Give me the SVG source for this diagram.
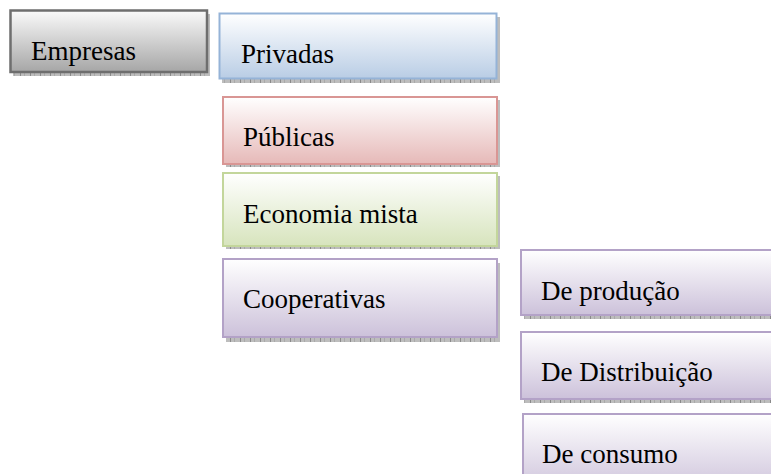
<svg xmlns="http://www.w3.org/2000/svg" width="771" height="474" viewBox="0 0 771 474">
<defs>
<linearGradient id="gGray" x1="0" y1="0" x2="0" y2="1"><stop offset="0" stop-color="#fafafa"/><stop offset="1" stop-color="#a6a6a6"/></linearGradient>
<linearGradient id="gBlue" x1="0" y1="0" x2="0" y2="1"><stop offset="0" stop-color="#ffffff"/><stop offset="1" stop-color="#b9cde5"/></linearGradient>
<linearGradient id="gRed" x1="0" y1="0" x2="0" y2="1"><stop offset="0" stop-color="#ffffff"/><stop offset="1" stop-color="#e6b9b8"/></linearGradient>
<linearGradient id="gGreen" x1="0" y1="0" x2="0" y2="1"><stop offset="0" stop-color="#ffffff"/><stop offset="1" stop-color="#d7e4bd"/></linearGradient>
<linearGradient id="gPurple" x1="0" y1="0" x2="0" y2="1"><stop offset="0" stop-color="#ffffff"/><stop offset="1" stop-color="#ccc1da"/></linearGradient>
<pattern id="shade" width="10" height="10" patternUnits="userSpaceOnUse">
<rect width="10" height="10" fill="#bdbdbd"/>
<rect x="0" y="0" width="1" height="10" fill="#8a8a8a"/>
<rect x="4" y="0" width="1" height="10" fill="#a9a9a9"/>
</pattern>
</defs>
<style>
.lbl{font-family:"Liberation Serif","Times New Roman",serif;font-size:27px;fill:#000}
.sh{fill:url(#shade)}
.gray{fill:url(#gGray);stroke:#6e6e6e;stroke-width:2.5}
.blue{fill:url(#gBlue);stroke:#95b3d7;stroke-width:2}
.red{fill:url(#gRed);stroke:#d99694;stroke-width:2}
.green{fill:url(#gGreen);stroke:#c3d69b;stroke-width:2}
.purple{fill:url(#gPurple);stroke:#b3a2c7;stroke-width:2}
</style>
<rect width="771" height="474" fill="#ffffff"/>
<g id="connectors"></g>
<g id="empresas">
<rect class="sh" x="13" y="14" width="197" height="62"/>
<rect class="gray" x="10.5" y="10.5" width="196.5" height="61.5"/>
<text class="lbl" x="31" y="60">Empresas</text>
</g>
<g id="privadas">
<rect class="sh" x="222" y="17" width="278" height="66"/>
<rect class="blue" x="219.5" y="13.5" width="277" height="65"/>
<text class="lbl" x="241" y="63">Privadas</text>
</g>
<g id="publicas">
<rect class="sh" x="226" y="100" width="274" height="67"/>
<rect class="red" x="223" y="97" width="274" height="67"/>
<text class="lbl" x="243" y="146">Públicas</text>
</g>
<g id="economia">
<rect class="sh" x="226" y="176" width="274" height="73"/>
<rect class="green" x="223" y="173" width="274" height="73"/>
<text class="lbl" x="243" y="223">Economia mista</text>
</g>
<g id="cooperativas">
<rect class="sh" x="226" y="263" width="274" height="79"/>
<rect class="purple" x="223" y="259" width="274" height="78"/>
<text class="lbl" x="243" y="308">Cooperativas</text>
</g>
<g id="producao">
<rect class="sh" x="524" y="254" width="270" height="65"/>
<rect class="purple" x="521" y="250" width="270" height="65"/>
<text class="lbl" x="541" y="300">De produção</text>
</g>
<g id="distribuicao">
<rect class="sh" x="524" y="336" width="270" height="67"/>
<rect class="purple" x="521" y="332" width="270" height="67"/>
<text class="lbl" x="541" y="381">De Distribuição</text>
</g>
<g id="consumo">
<rect class="purple" x="523" y="414" width="270" height="80"/>
<text class="lbl" x="542" y="463">De consumo</text>
</g>
</svg>
